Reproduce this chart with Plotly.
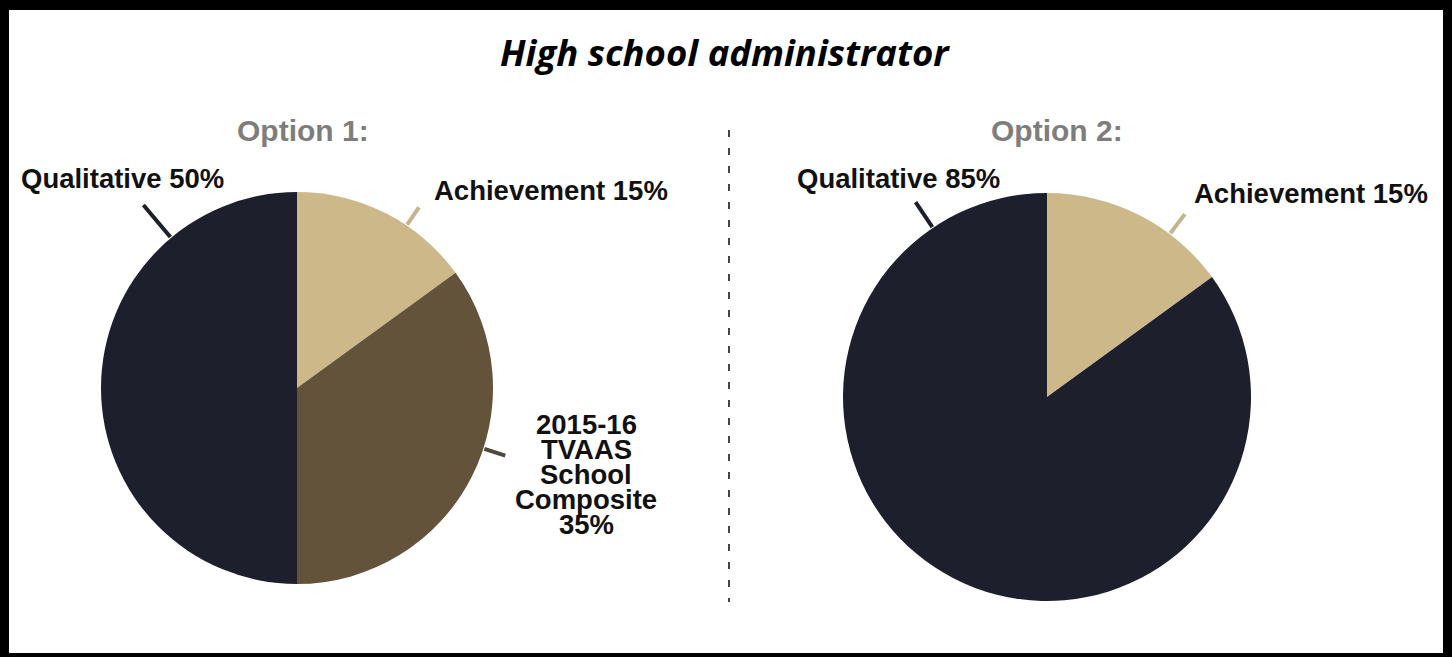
import math
import plotly.graph_objects as go

W, H = 1452, 657

# ---- data ----
title_text = "High school administrator"
option_titles = ["Option 1:", "Option 2:"]
opt1_labels = ["Achievement", "2015-16 TVAAS School Composite", "Qualitative"]
opt1_values = [15, 35, 50]
opt1_texts = ["Achievement 15%", "2015-16\nTVAAS\nSchool\nComposite\n35%", "Qualitative 50%"]
opt2_labels = ["Achievement", "Qualitative"]
opt2_values = [15, 85]
opt2_texts = ["Achievement 15%", "Qualitative 85%"]

# ---- styles / layout ----
colors = {"Achievement": "#cdb88a",
          "2015-16 TVAAS School Composite": "#64533b",
          "Qualitative": "#1d1f2c"}
leader_colors = {"Achievement": "#c6b48e",
                 "2015-16 TVAAS School Composite": "#4d473d",
                 "Qualitative": "#1d1f2c"}

pies = [
    dict(cx=297, cy=388, r=196, labels=opt1_labels, values=opt1_values, texts=opt1_texts,
         title_pos=(303, 130),
         text_pos=[(551, 190), (586, 424), (122, 178)],
         leader=[(34, 22), (108, 23), (320, 43)]),
    dict(cx=1047, cy=397, r=204, labels=opt2_labels, values=opt2_values, texts=opt2_texts,
         title_pos=(1057, 130),
         text_pos=[(1311, 193), (898, 178)],
         leader=[(37, 25), (326, 31)]),
]

LABEL_FONT = dict(family="Liberation Sans, Arial, sans-serif", size=27.5, color="#111111")
LINE_SPACING = 25


def px(x):
    return x / W


def py(y):
    return 1 - y / H


fig = go.Figure()
shapes = []
annotations = []

for i, p in enumerate(pies):
    fig.add_trace(go.Pie(
        labels=p["labels"], values=p["values"],
        sort=False, direction="clockwise", rotation=0,
        marker=dict(colors=[colors[l] for l in p["labels"]], line=dict(width=0)),
        textinfo="none", showlegend=False,
        domain=dict(x=[px(p["cx"] - p["r"]), px(p["cx"] + p["r"])],
                    y=[py(p["cy"] + p["r"]), py(p["cy"] - p["r"])]),
    ))
    # option subtitle
    annotations.append(dict(text="<b>%s</b>" % option_titles[i], x=px(p["title_pos"][0]), y=py(p["title_pos"][1]),
                            xref="paper", yref="paper", showarrow=False, xanchor="center", yanchor="middle",
                            font=dict(family="Liberation Sans, Arial, sans-serif", size=30, color="#7d7d7d")))
    # slice labels
    for lab, txt, (tx, ty), (ang, ln) in zip(p["labels"], p["texts"], p["text_pos"], p["leader"]):
        for k, line in enumerate(txt.split("\n")):
            annotations.append(dict(text="<b>%s</b>" % line, x=px(tx), y=py(ty + k * LINE_SPACING),
                                    xref="paper", yref="paper", showarrow=False,
                                    xanchor="center", yanchor="middle", font=LABEL_FONT))
        a = math.radians(ang)
        r0, r1 = p["r"] + 1, p["r"] + ln
        x0, y0 = p["cx"] + r0 * math.sin(a), p["cy"] - r0 * math.cos(a)
        x1, y1 = p["cx"] + r1 * math.sin(a), p["cy"] - r1 * math.cos(a)
        shapes.append(dict(type="line", xref="paper", yref="paper",
                           x0=px(x0), y0=py(y0), x1=px(x1), y1=py(y1),
                           line=dict(color=leader_colors[lab], width=4)))

# divider
shapes.append(dict(type="line", xref="paper", yref="paper", x0=px(729), x1=px(729), y0=py(130), y1=py(602),
                   line=dict(color="#444444", width=2, dash="7px,11px")))

# frame
for (x0, y0, x1, y1) in [(0, 0, W, 10), (0, 0, 9, H), (W - 9, 0, W, H), (0, H - 4, W, H)]:
    shapes.append(dict(type="rect", xref="paper", yref="paper", x0=px(x0), x1=px(x1), y0=py(y1), y1=py(y0),
                       fillcolor="#000000", line=dict(width=0), layer="above"))

annotations.append(dict(text="<b><i>%s</i></b>" % title_text, x=px(725), y=py(52), xref="paper", yref="paper",
                        showarrow=False, xanchor="center", yanchor="middle",
                        font=dict(family="Open Sans, sans-serif", size=36.5, color="#000000")))

fig.update_layout(width=W, height=H, margin=dict(l=0, r=0, t=0, b=0),
                  paper_bgcolor="white", plot_bgcolor="white",
                  shapes=shapes, annotations=annotations, showlegend=False)

fig.write_html("out.html",
               config={"displayModeBar": False},
               post_script="document.body.style.margin='0';document.body.style.padding='0';"
                           "document.body.style.overflow='hidden';")
